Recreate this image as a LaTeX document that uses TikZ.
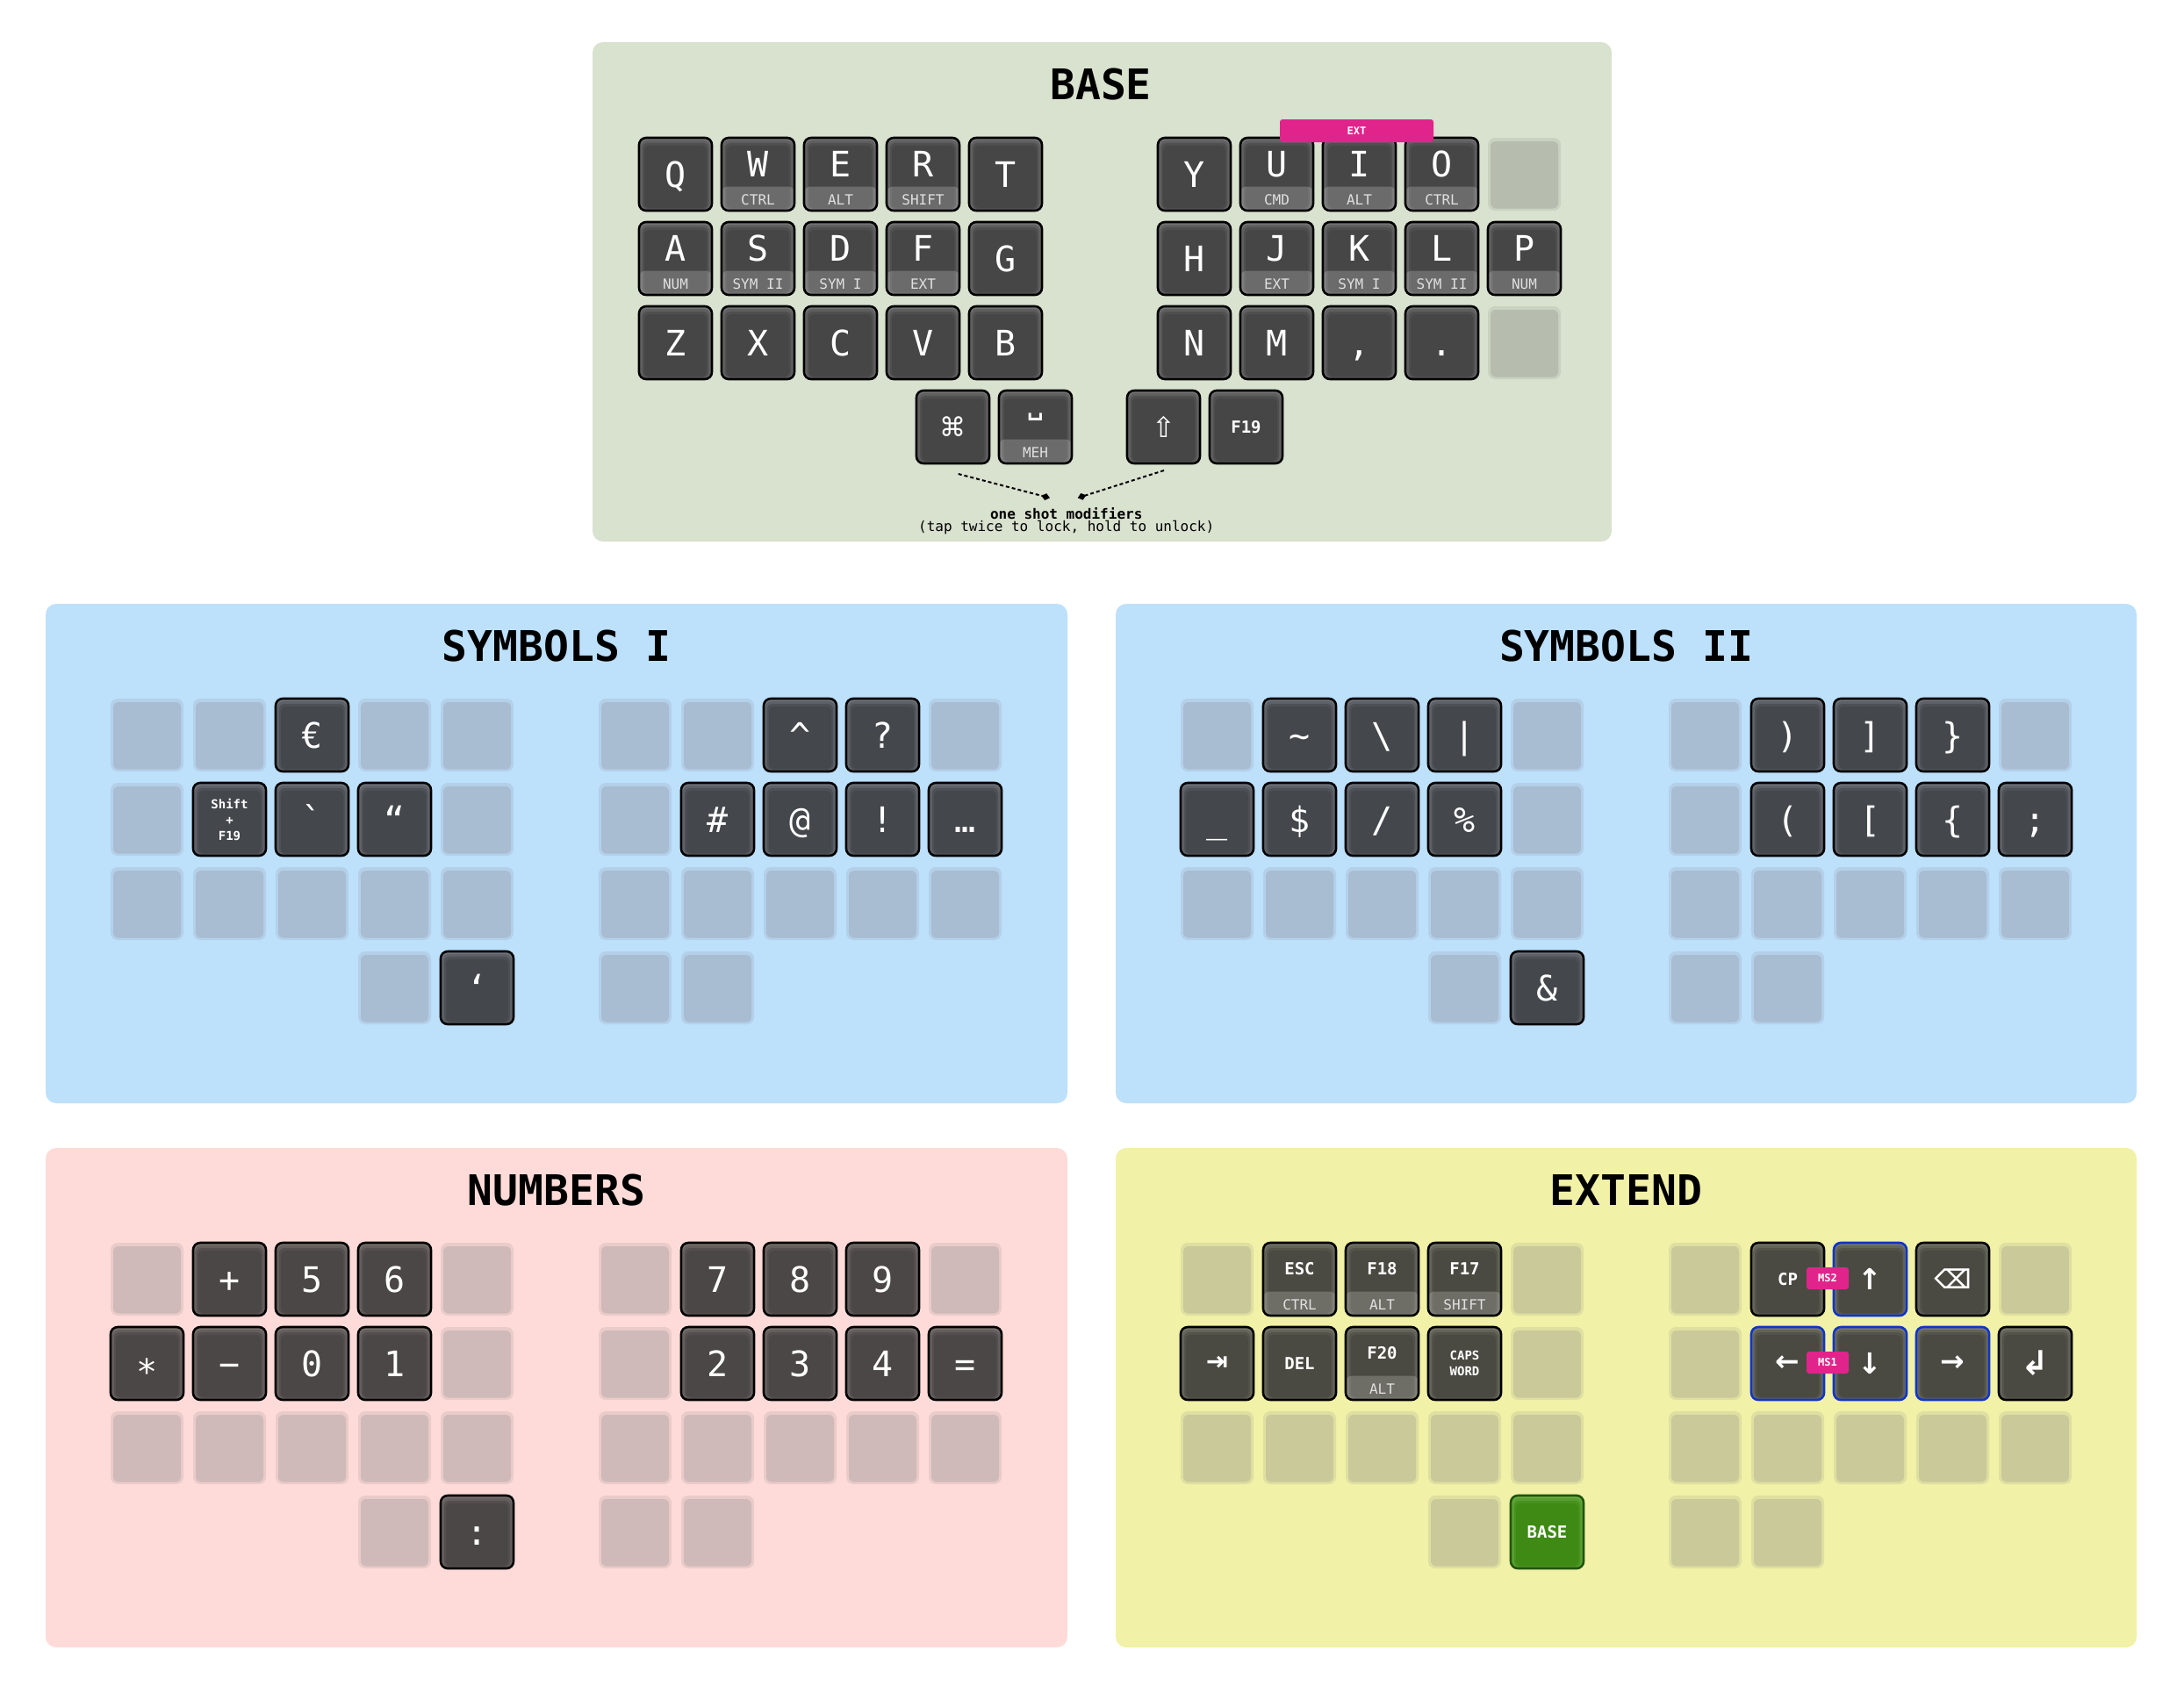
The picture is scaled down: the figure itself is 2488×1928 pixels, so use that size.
\documentclass[tikz,border=0pt]{standalone}
\usepackage{fontspec}
\setmainfont{DejaVu Sans}
\setmonofont{DejaVu Sans Mono}
\newfontfamily\symfam{DejaVu Sans}
\usetikzlibrary{arrows.meta}

\definecolor{bgbase}{HTML}{D9E1CF}
\definecolor{bgsym}{HTML}{BDE0FB}
\definecolor{bgnum}{HTML}{FEDBD8}
\definecolor{bgext}{HTML}{F1F1A7}
\definecolor{tagmag}{HTML}{E1248B}
\definecolor{msblue}{HTML}{1035C8}
\definecolor{grnfill}{HTML}{3E8A14}
\definecolor{grnhi}{HTML}{6CAE45}
\definecolor{grnedge}{HTML}{1F5508}

% key body: #1 x, #2 y (top-left), uses colours kfill and khi
\newcommand\keybody[2]{%
  \fill[khi,rounded corners=8pt] (#1,#2) rectangle ++(83,83);
  \fill[kfill!45!khi,rounded corners=7pt] (#1+2,#2+3) rectangle (#1+81,#2+82);
  \fill[kfill!80!khi,rounded corners=6pt] (#1+4,#2+6) rectangle (#1+79,#2+81);
  \fill[kfill,rounded corners=5pt] (#1+6,#2+9) rectangle (#1+77,#2+80);
}
\newcommand\keyedge[3][black]{\draw[#1,line width=2.6pt,rounded corners=8pt] (#2,#3) rectangle ++(83,83);}
\newcommand\holdband[2]{%
  \begin{scope}
    \clip[rounded corners=8pt] (#1,#2) rectangle ++(83,83);
    \fill[white,fill opacity=0.2,rounded corners=7pt] (#1,#2+55.5) rectangle (#1+83,#2+100);
  \end{scope}}
% tap key: [border]{name}{x}{y}{style}{label}
\newcommand\tapkey[6][black]{%
  \keybody{#3}{#4}\keyedge[#1]{#3}{#4}%
  \node[#5] (#2) at (#3+41.5,#4+41.5) {#6};}
% hold key: [border]{name}{x}{y}{style}{label}{hold}
\newcommand\holdkey[7][black]{%
  \keybody{#3}{#4}\holdband{#3}{#4}\keyedge[#1]{#3}{#4}%
  \node[#5] (#2) at (#3+41.5,#4+30) {#6};
  \node[khold] (#2h) at (#3+41.5,#4+70.5) {#7};}
% empty (transparent) key
\newcommand\nokey[2]{%
  \fill[bedge,rounded corners=8pt] (#1,#2) rectangle ++(83,83);
  \fill[bcol,rounded corners=6pt] (#1+3,#2+4) rectangle (#1+80,#2+80.5);}

\begin{document}
\begin{tikzpicture}[x=1pt,y=-1pt,
  kbig/.style={font=\ttfamily\fontsize{40}{40}\selectfont,text=white,inner sep=0pt,text height=29.2pt,text depth=0pt},
  kmid/.style={font=\ttfamily\bfseries\fontsize{19}{19}\selectfont,text=white,inner sep=0pt,text height=13.9pt,text depth=0pt},
  ksmall/.style={font=\ttfamily\bfseries\fontsize{14}{18}\selectfont,text=white,inner sep=0pt,align=center},
  khold/.style={font=\ttfamily\fontsize{16}{16}\selectfont,text=white!88!black,inner sep=0pt,text height=11.7pt,text depth=0pt},
  kglyph/.style={font=\symfam\fontsize{30}{30}\selectfont,text=white,inner sep=0pt},
  karrow/.style={font=\symfam\bfseries\fontsize{33}{33}\selectfont,text=white,inner sep=0pt},
  title/.style={font=\ttfamily\bfseries\fontsize{48}{48}\selectfont,text=black,inner sep=0pt,text height=35pt,text depth=0pt},
  tag/.style={fill=tagmag,rounded corners=3pt,text=white,font=\ttfamily\bfseries\fontsize{12}{12}\selectfont,inner sep=0pt},
  osm/.style={line width=2pt,dash pattern=on 4pt off 3pt,-{Diamond[length=10pt,width=8pt]}},
  osmtxt/.style={font=\ttfamily\fontsize{16}{16}\selectfont,text=black,inner sep=0pt}]
\useasboundingbox (0,0) rectangle (2488,1928);
\fill[white] (0,0) rectangle (2488,1928);

% ================= BASE =================
\begin{scope}[shift={(675,48)}]
\fill[bgbase,rounded corners=12pt] (0,0) rectangle (1161,569);
\node[title] (tbase) at (579,48) {BASE};
\definecolor{kfill}{HTML}{464646}\definecolor{khi}{HTML}{747474}
\definecolor{bcol}{HTML}{B6BDAE}\colorlet{bedge}{bcol!45!bgbase}
% row 0
\tapkey{kQ}{53}{109}{kbig}{Q}
\holdkey{kW}{147}{109}{kbig}{W}{CTRL}
\holdkey{kE}{241}{109}{kbig}{E}{ALT}
\holdkey{kR}{335}{109}{kbig}{R}{SHIFT}
\tapkey{kT}{429}{109}{kbig}{T}
\tapkey{kY}{644}{109}{kbig}{Y}
\holdkey{kU}{738}{109}{kbig}{U}{CMD}
\holdkey{kI}{832}{109}{kbig}{I}{ALT}
\holdkey{kO}{926}{109}{kbig}{O}{CTRL}
\nokey{1020}{109}
% row 1
\holdkey{kA}{53}{205}{kbig}{A}{NUM}
\holdkey{kS}{147}{205}{kbig}{S}{SYM II}
\holdkey{kD}{241}{205}{kbig}{D}{SYM I}
\holdkey{kF}{335}{205}{kbig}{F}{EXT}
\tapkey{kG}{429}{205}{kbig}{G}
\tapkey{kH}{644}{205}{kbig}{H}
\holdkey{kJ}{738}{205}{kbig}{J}{EXT}
\holdkey{kK}{832}{205}{kbig}{K}{SYM I}
\holdkey{kL}{926}{205}{kbig}{L}{SYM II}
\holdkey{kP}{1020}{205}{kbig}{P}{NUM}
% row 2
\tapkey{kZ}{53}{301}{kbig}{Z}
\tapkey{kX}{147}{301}{kbig}{X}
\tapkey{kC}{241}{301}{kbig}{C}
\tapkey{kV}{335}{301}{kbig}{V}
\tapkey{kB}{429}{301}{kbig}{B}
\tapkey{kN}{644}{301}{kbig}{N}
\tapkey{kM}{738}{301}{kbig}{M}
\tapkey{kcomma}{832}{301}{kbig}{,}
\tapkey{kdot}{926}{301}{kbig}{.}
\nokey{1020}{301}
% thumbs
\tapkey{kcmd}{369}{397}{kglyph}{⌘}
\holdkey{kspc}{463}{397}{kglyph,font=\symfam\bfseries\fontsize{26}{26}\selectfont}{␣}{MEH}
\tapkey{kshift}{609}{397}{kglyph,font=\symfam\fontsize{32}{32}\selectfont}{⇧}
\tapkey{kfnn}{703}{397}{kmid}{F19}
% combo
\node[tag,minimum width=175pt,minimum height=26pt] (cext) at (870.5,101) {EXT};
% one shot modifiers
\coordinate (osmA) at (416.7,492);
\coordinate (osmB) at (651,488);
\coordinate (osmAt) at (521,519.3);
\coordinate (osmBt) at (552.7,519.3);
\draw[osm] (osmA) -- (osmAt);
\draw[osm] (osmB) -- (osmBt);
\node[osmtxt,font=\ttfamily\bfseries\fontsize{16}{16}\selectfont] (osm1) at (539.7,537) {one shot modifiers};
\node[osmtxt] (osm2) at (539.7,552.7) {(tap twice to lock, hold to unlock)};
\end{scope}

% ================= SYMBOLS I =================
\begin{scope}[shift={(52,688)}]
\fill[bgsym,rounded corners=12pt] (0,0) rectangle (1164,569);
\node[title] (tsym1) at (582,48) {SYMBOLS I};
\definecolor{kfill}{HTML}{44484C}\definecolor{khi}{HTML}{71767D}
\definecolor{bcol}{HTML}{A8BCD2}\colorlet{bedge}{bcol!45!bgsym}
% row 0
\nokey{74}{108}\nokey{168}{108}
\tapkey{saeuro}{262}{108}{kbig}{€}
\nokey{356}{108}\nokey{450}{108}
\nokey{630}{108}\nokey{724}{108}
\tapkey{sacaret}{818}{108}{kbig}{\textasciicircum}
\tapkey{saques}{912}{108}{kbig}{?}
\nokey{1006}{108}
% row 1
\nokey{74}{204}
\tapkey{sashf}{168}{204}{ksmall}{Shift\\+\\F19}
\tapkey{sagrave}{262}{204}{kbig}{\textasciigrave}
\tapkey{saldq}{356}{204}{kbig}{“}
\nokey{450}{204}
\nokey{630}{204}
\tapkey{sahash}{724}{204}{kbig}{\#}
\tapkey{saat}{818}{204}{kbig}{@}
\tapkey{saexcl}{912}{204}{kbig}{!}
\tapkey{saell}{1006}{204}{kbig}{…}
% row 2
\nokey{74}{300}\nokey{168}{300}\nokey{262}{300}\nokey{356}{300}\nokey{450}{300}
\nokey{630}{300}\nokey{724}{300}\nokey{818}{300}\nokey{912}{300}\nokey{1006}{300}
% thumbs
\nokey{356}{396}
\tapkey{salsq}{450}{396}{kbig}{‘}
\nokey{630}{396}\nokey{724}{396}
\end{scope}

% ================= SYMBOLS II =================
\begin{scope}[shift={(1271,688)}]
\fill[bgsym,rounded corners=12pt] (0,0) rectangle (1163,569);
\node[title] (tsym2) at (581.5,48) {SYMBOLS II};
\definecolor{kfill}{HTML}{44484C}\definecolor{khi}{HTML}{71767D}
\definecolor{bcol}{HTML}{A8BCD2}\colorlet{bedge}{bcol!45!bgsym}
% row 0
\nokey{74}{108}
\tapkey{sbtilde}{168}{108}{kbig}{\textasciitilde}
\tapkey{sbbsl}{262}{108}{kbig}{\textbackslash}
\tapkey{sbbar}{356}{108}{kbig}{\textbar}
\nokey{450}{108}
\nokey{630}{108}
\tapkey{sbrpar}{724}{108}{kbig}{)}
\tapkey{sbrbrk}{818}{108}{kbig}{]}
\tapkey{sbrbrc}{912}{108}{kbig}{\}}
\nokey{1006}{108}
% row 1
\tapkey{sbund}{74}{204}{kbig}{\_}
\tapkey{sbdol}{168}{204}{kbig}{\$}
\tapkey{sbsl}{262}{204}{kbig}{/}
\tapkey{sbpct}{356}{204}{kbig}{\%}
\nokey{450}{204}
\nokey{630}{204}
\tapkey{sblpar}{724}{204}{kbig}{(}
\tapkey{sblbrk}{818}{204}{kbig}{[}
\tapkey{sblbrc}{912}{204}{kbig}{\{}
\tapkey{sbsemi}{1006}{204}{kbig}{;}
% row 2
\nokey{74}{300}\nokey{168}{300}\nokey{262}{300}\nokey{356}{300}\nokey{450}{300}
\nokey{630}{300}\nokey{724}{300}\nokey{818}{300}\nokey{912}{300}\nokey{1006}{300}
% thumbs
\nokey{356}{396}
\tapkey{sbamp}{450}{396}{kbig}{\&}
\nokey{630}{396}\nokey{724}{396}
\end{scope}

% ================= NUMBERS =================
\begin{scope}[shift={(52,1308)}]
\fill[bgnum,rounded corners=12pt] (0,0) rectangle (1164,569);
\node[title] (tnum) at (582,48) {NUMBERS};
\definecolor{kfill}{HTML}{4B4746}\definecolor{khi}{HTML}{78716F}
\definecolor{bcol}{HTML}{D0B9B9}\colorlet{bedge}{bcol!45!bgnum}
% row 0
\nokey{74}{108}
\tapkey{nplus}{168}{108}{kbig}{+}
\tapkey{nfive}{262}{108}{kbig}{5}
\tapkey{nsix}{356}{108}{kbig}{6}
\nokey{450}{108}
\nokey{630}{108}
\tapkey{nseven}{724}{108}{kbig}{7}
\tapkey{neight}{818}{108}{kbig}{8}
\tapkey{nnine}{912}{108}{kbig}{9}
\nokey{1006}{108}
% row 1
\tapkey{nstar}{74}{204}{kbig}{\raisebox{-9pt}{*}}
\tapkey{nminus}{168}{204}{kbig}{−}
\tapkey{nzero}{262}{204}{kbig}{0}
\tapkey{none}{356}{204}{kbig}{1}
\nokey{450}{204}
\nokey{630}{204}
\tapkey{ntwo}{724}{204}{kbig}{2}
\tapkey{nthree}{818}{204}{kbig}{3}
\tapkey{nfour}{912}{204}{kbig}{4}
\tapkey{neq}{1006}{204}{kbig}{=}
% row 2
\nokey{74}{300}\nokey{168}{300}\nokey{262}{300}\nokey{356}{300}\nokey{450}{300}
\nokey{630}{300}\nokey{724}{300}\nokey{818}{300}\nokey{912}{300}\nokey{1006}{300}
% thumbs
\nokey{356}{396}
\tapkey{ncolon}{450}{396}{kbig}{:}
\nokey{630}{396}\nokey{724}{396}
\end{scope}

% ================= EXTEND =================
\begin{scope}[shift={(1271,1308)}]
\fill[bgext,rounded corners=12pt] (0,0) rectangle (1163,569);
\node[title] (text) at (581.5,48) {EXTEND};
\definecolor{kfill}{HTML}{4A4A42}\definecolor{khi}{HTML}{77776C}
\definecolor{bcol}{HTML}{C9C99A}\colorlet{bedge}{bcol!45!bgext}
% row 0
\nokey{74}{108}
\holdkey{eesc}{168}{108}{kmid}{ESC}{CTRL}
\holdkey{efea}{262}{108}{kmid}{F18}{ALT}
\holdkey{efeb}{356}{108}{kmid}{F17}{SHIFT}
\nokey{450}{108}
\nokey{630}{108}
\tapkey{ecp}{724}{108}{kmid}{CP}
\tapkey[msblue]{eup}{818}{108}{karrow}{↑}
\tapkey{ebsp}{912}{108}{kglyph,font=\symfam\bfseries\fontsize{30}{30}\selectfont}{⌫}
\nokey{1006}{108}
% row 1
\tapkey{etab}{74}{204}{karrow,font=\symfam\bfseries\fontsize{30}{30}\selectfont}{⇥}
\tapkey{edel}{168}{204}{kmid}{DEL}
\holdkey{efec}{262}{204}{kmid}{F20}{ALT}
\tapkey{ecaps}{356}{204}{ksmall}{CAPS\\WORD}
\nokey{450}{204}
\nokey{630}{204}
\tapkey[msblue]{eleft}{724}{204}{karrow}{←}
\tapkey[msblue]{edown}{818}{204}{karrow}{↓}
\tapkey[msblue]{eright}{912}{204}{karrow}{→}
\tapkey{eret}{1006}{204}{kglyph,font=\symfam\bfseries\fontsize{38}{38}\selectfont}{↲}
% row 2
\nokey{74}{300}\nokey{168}{300}\nokey{262}{300}\nokey{356}{300}\nokey{450}{300}
\nokey{630}{300}\nokey{724}{300}\nokey{818}{300}\nokey{912}{300}\nokey{1006}{300}
% thumbs
\nokey{356}{396}
\begin{scope}
\colorlet{kfill}{grnfill}\colorlet{khi}{grnhi}
\tapkey[grnedge]{ebase}{450}{396}{kmid}{BASE}
\end{scope}
\nokey{630}{396}\nokey{724}{396}
% combos
\node[tag,minimum width=48pt,minimum height=25pt] (ems2) at (811,148.5) {MS2};
\node[tag,minimum width=48pt,minimum height=25pt] (ems1) at (811,244.5) {MS1};
\end{scope}
\end{tikzpicture}
\end{document}
